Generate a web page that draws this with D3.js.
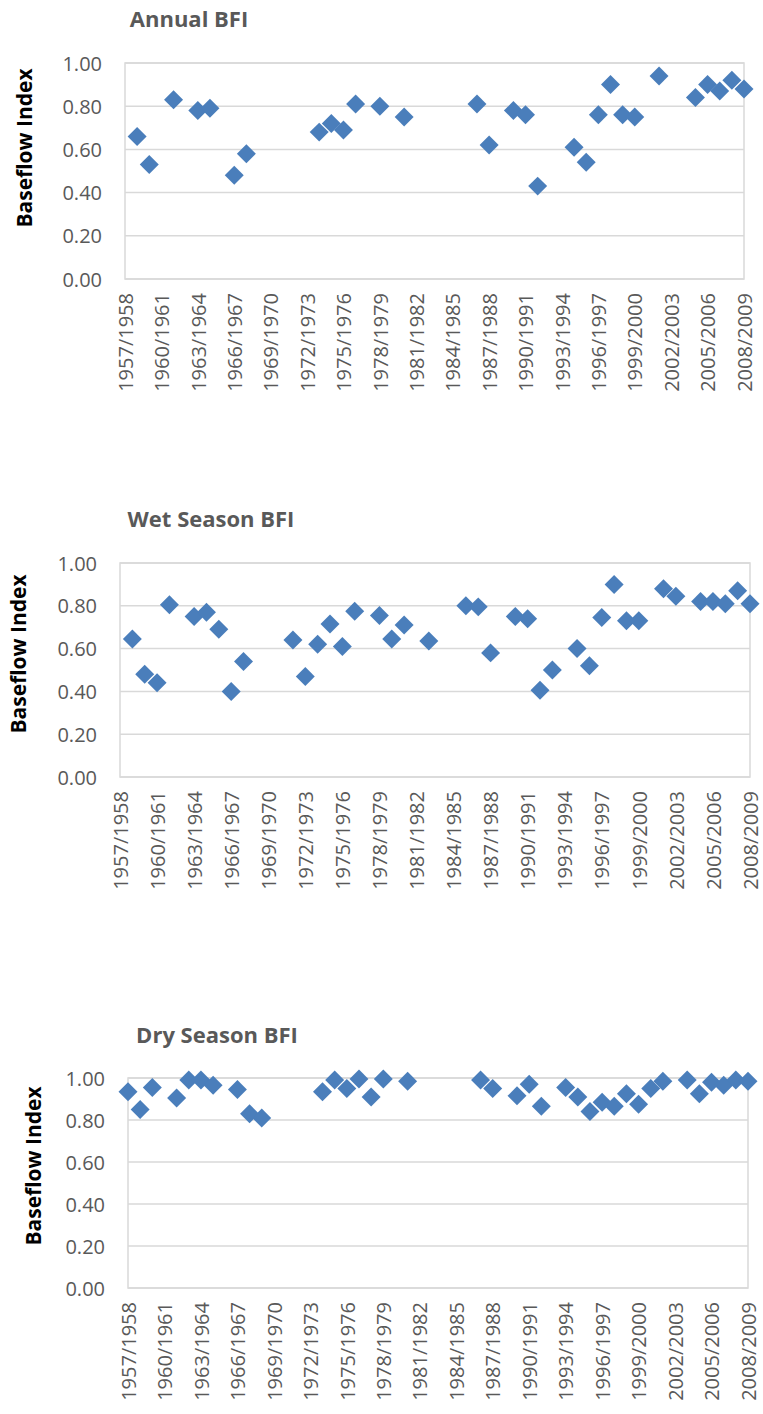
<!DOCTYPE html>
<html>
<head>
<meta charset="utf-8">
<script src="https://cdn.jsdelivr.net/npm/d3@7"></script>
<style>
  body { margin: 0; background: #ffffff; }
  .panel-title { font-family: "Open Sans", sans-serif; font-weight: bold; font-size: 22px; fill: #595959; }
  .y-title { font-family: "Open Sans", sans-serif; font-weight: bold; font-size: 21px; fill: #000000; }
  .tick text { font-family: "Open Sans", sans-serif; font-size: 20px; fill: #595959; }
</style>
</head>
<body>
<div id="bfi-vis"></div>
<script>
// Baseflow index, three panels

const WIDTH = 763
const HEIGHT = 1414

const categories = [
  "1957/1958", "1958/1959", "1959/1960", "1960/1961", "1961/1962", "1962/1963",
  "1963/1964", "1964/1965", "1965/1966", "1966/1967", "1967/1968", "1968/1969",
  "1969/1970", "1970/1971", "1971/1972", "1972/1973", "1973/1974", "1974/1975",
  "1975/1976", "1976/1977", "1977/1978", "1978/1979", "1979/1980", "1980/1981",
  "1981/1982", "1982/1983", "1983/1984", "1984/1985", "1985/1986", "1986/1987",
  "1987/1988", "1988/1989", "1989/1990", "1990/1991", "1991/1992", "1992/1993",
  "1993/1994", "1994/1995", "1995/1996", "1996/1997", "1997/1998", "1998/1999",
  "1999/2000", "2000/2001", "2001/2002", "2002/2003", "2003/2004", "2004/2005",
  "2005/2006", "2006/2007", "2007/2008", "2008/2009"
]

// every third year is labelled on the axis
const xTickLabels = [
  "1957/1958", "1960/1961", "1963/1964", "1966/1967", "1969/1970", "1972/1973",
  "1975/1976", "1978/1979", "1981/1982", "1984/1985", "1987/1988", "1990/1991",
  "1993/1994", "1996/1997", "1999/2000", "2002/2003", "2005/2006", "2008/2009"
]

const yTicks = [0, 0.2, 0.4, 0.6, 0.8, 1.0]

// null = no value for that year
const annualBFI = [
  null, 0.66, 0.53, null, 0.83, null, 0.78, 0.79, null, 0.48, 0.58, null,
  null, null, null, null, 0.68, 0.72, 0.69, 0.81, null, 0.80, null, 0.75,
  null, null, null, null, null, 0.81, 0.62, null, 0.78, 0.76, 0.43, null,
  null, 0.61, 0.54, 0.76, 0.90, 0.76, 0.75, null, 0.94, null, null, 0.84,
  0.90, 0.87, 0.92, 0.88
]

const wetBFI = [
  null, 0.645, 0.48, 0.44, 0.805, null, 0.75, 0.77, 0.69, 0.40, 0.54, null,
  null, null, 0.64, 0.47, 0.62, 0.715, 0.61, 0.775, null, 0.755, 0.645, 0.71,
  null, 0.635, null, null, 0.80, 0.795, 0.58, null, 0.75, 0.74, 0.405, 0.50,
  null, 0.60, 0.52, 0.745, 0.90, 0.73, 0.73, null, 0.88, 0.845, null, 0.82,
  0.82, 0.81, 0.87, 0.81
]

const dryBFI = [
  0.935, 0.85, 0.955, null, 0.905, 0.99, 0.99, 0.965, null, 0.945, 0.83, 0.81,
  null, null, null, null, 0.935, 0.99, 0.95, 0.995, 0.91, 0.995, null, 0.985,
  null, null, null, null, null, 0.99, 0.95, null, 0.915, 0.97, 0.865, null,
  0.955, 0.91, 0.84, 0.885, 0.865, 0.925, 0.875, 0.95, 0.985, null, 0.99, 0.925,
  0.98, 0.965, 0.99, 0.985
]

const panelTitles = ["Annual BFI", "Wet Season BFI", "Dry Season BFI"]
const Y_TITLE = "Baseflow Index"

const MARKER_COLOR = "#4a7ebb"
const GRID_COLOR = "#d9d9d9"

// layout of each panel (plot box, title and axis title positions)
const LAYOUT = [
  { left: 125, right: 744, top: 63, bottom: 279, titleX: 189, titleY: 27, yTitleX: 25, yTitleY: 148 },
  { left: 120, right: 750, top: 563, bottom: 777, titleX: 211, titleY: 527, yTitleX: 19, yTitleY: 654 },
  { left: 128, right: 748, top: 1078, bottom: 1288, titleX: 217, titleY: 1043, yTitleX: 34, yTitleY: 1166 }
]

const SVG = d3.select("#bfi-vis")
  .append("svg")
  .attr("width", WIDTH)
  .attr("height", HEIGHT)

const diamond = d3.symbol(d3.symbolSquare).size(180)

function makePanel(title, values, box) {
  const g = SVG.append("g").attr("class", "panel")

  const x = d3.scalePoint()
    .domain(categories)
    .range([box.left, box.right])
    .padding(0)

  const y = d3.scaleLinear()
    .domain([0, 1])
    .range([box.bottom, box.top])

  // gridlines
  g.append("g")
    .selectAll("line")
    .data(yTicks)
    .join("line")
    .attr("x1", box.left)
    .attr("x2", box.right)
    .attr("y1", d => y(d))
    .attr("y2", d => y(d))
    .attr("stroke", GRID_COLOR)
    .attr("stroke-width", 1.5)

  // plot border
  g.append("rect")
    .attr("x", box.left)
    .attr("y", box.top)
    .attr("width", box.right - box.left)
    .attr("height", box.bottom - box.top)
    .attr("fill", "none")
    .attr("stroke", GRID_COLOR)
    .attr("stroke-width", 1.5)

  // y axis
  const yAxis = d3.axisLeft(y)
    .tickValues(yTicks)
    .tickFormat(d3.format(".2f"))
    .tickSize(0)
    .tickPadding(23)

  g.append("g")
    .attr("transform", `translate(${box.left}, 0)`)
    .call(yAxis)
    .call(a => a.select(".domain").remove())
    .selectAll("text")
    .attr("dy", "0.35em")

  // x axis
  const xAxis = d3.axisBottom(x)
    .tickValues(xTickLabels)
    .tickSize(0)

  g.append("g")
    .attr("transform", `translate(0, ${box.bottom})`)
    .call(xAxis)
    .call(a => a.select(".domain").remove())
    .selectAll("text")
    .attr("text-anchor", "end")
    .attr("x", -14)
    .attr("y", 0)
    .attr("dy", "0.36em")
    .attr("transform", "rotate(-90)")

  // markers
  const points = categories
    .map((c, i) => ({ cat: c, value: values[i] }))
    .filter(d => d.value !== null)

  g.append("g")
    .selectAll("path.marker")
    .data(points)
    .join("path")
    .attr("class", "marker")
    .attr("d", diamond)
    .attr("fill", MARKER_COLOR)
    .attr("transform", d => `translate(${x(d.cat)},${y(d.value)}) rotate(45)`)

  // titles
  g.append("text")
    .attr("class", "panel-title")
    .attr("x", box.titleX)
    .attr("y", box.titleY)
    .attr("text-anchor", "middle")
    .text(title)

  g.append("text")
    .attr("class", "y-title")
    .attr("text-anchor", "middle")
    .attr("dy", "0.35em")
    .attr("transform", `translate(${box.yTitleX},${box.yTitleY}) rotate(-90)`)
    .text(Y_TITLE)
}

makePanel(panelTitles[0], annualBFI, LAYOUT[0])
makePanel(panelTitles[1], wetBFI, LAYOUT[1])
makePanel(panelTitles[2], dryBFI, LAYOUT[2])
</script>
</body>
</html>
